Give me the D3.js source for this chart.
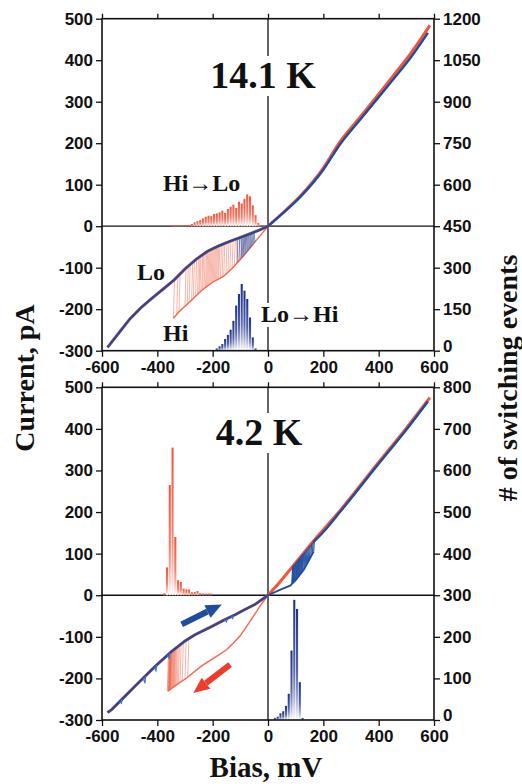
<!DOCTYPE html>
<html><head><meta charset="utf-8">
<script src="https://cdn.jsdelivr.net/npm/d3@7"></script>
<style>body{margin:0;background:#fff}</style>
</head><body><svg id="c" width="522" height="784"></svg>
<script>
// ---------------- DATA ----------------
const biasTicks = [-600,-400,-200,0,200,400,600];
const currentTicks = [-300,-200,-100,0,100,200,300,400,500];
const countTicksTop = [0,150,300,450,600,750,900,1050,1200];
const countTicksBot = [0,100,200,300,400,500,600,700,800];

// 14.1 K panel  [bias mV, current pA]
const loNegTop = [[-580,-292],[-540,-258],[-500,-224],[-460,-197],[-420,-174],[-380,-152],[-340,-130],[-300,-103],[-260,-80],[-220,-61],[-180,-48],[-140,-37],[-100,-27],[-60,-17],[-30,-9],[0,0]];
const hiNegTop = [[-342,-222],[-320,-205],[-282,-182],[-240,-155],[-200,-135],[-161,-121],[-130,-102],[-101,-81],[-70,-57],[-41,-33],[-20,-16],[0,0]];
const redPosTop = [[0,0],[50,30],[116,72],[200,140],[260,203],[332,262],[400,318],[453,363],[520,420],[585,484]];
const bluePosTop = [[0,0],[50,29],[116,70],[200,136],[260,197],[332,256],[400,311],[453,354],[520,410],[578,466]];
const redSwitchTop = [-342,-330,-322,-300,-292,-285,-276,-270,-262,-255,-250,-246,-240,-236,-231,-226,-222,-218,-214,-210,-206,-202,-198,-194,-190,-186,-182,-178,-172,-166,-160,-152,-145,-138,-130,-122,-114,-106,-98,-90,-82,-74,-66];
const blueSwitchTop = [-112,-104,-98,-94,-90,-86,-82,-78,-74,-70,-66,-62,-58,-54,-50];
// switching-event histograms (bin centre mV, # events)
const hiLoTopBias = [-345,-335,-325,-315,-305,-295,-285,-275,-265,-255,-245,-235,-225,-215,-205,-195,-185,-175,-165,-155,-145,-135,-125,-115,-105,-95,-85,-75,-65,-55,-45,-35,-25];
const hiLoTopCount = [3,3,3,3,4,4,5,8,14,18,22,28,34,38,36,44,46,50,56,48,62,70,78,66,88,82,98,115,108,75,40,12,4];
const loHiTopBias = [-195,-185,-175,-165,-155,-145,-135,-125,-115,-105,-95,-85,-75,-65,-55,-45];
const loHiTopCount = [2,8,16,24,42,57,76,108,163,205,241,217,187,120,48,8];

// 4.2 K panel
const loNegBot = [[-580,-282],[-565,-275],[-520,-245],[-481,-219],[-440,-192],[-408,-171],[-348,-135],[-300,-110],[-264,-95],[-203,-75],[-160,-60],[-119,-47],[-80,-33],[-47,-22],[0,0]];
const hiNegBot = [[-362,-231],[-330,-215],[-294,-199],[-240,-170],[-186,-147],[-150,-131],[-125,-115],[-100,-97],[-77,-75],[-50,-48],[-29,-26],[0,0]];
const redPosBot = [[0,0],[43,32],[100,78],[164,130],[260,203],[400,320],[500,402],[585,475]];
const blueLoPosBot = [[0,0],[43,13],[80,23],[100,36],[130,62],[165,105]];
const bluePosBot = [[165,128],[200,152],[260,200],[400,316],[500,398],[578,466]];
const redSwitchBot = [-364,-362,-360,-359,-358,-357,-356,-355,-354,-353,-352,-350,-348,-346,-344,-342,-340,-338,-335,-332,-328,-324,-318,-310,-300,-290];
const blueSwitchBot = [86,88,90,92,95,97,100,102,105,108,110,112,115,118,120,123,126,130,134,138,142,146,150,155,160,165];
const blueGlitchBot = [[-530,8],[-445,16],[-405,12],[-358,10],[-150,7],[-128,6]];
const hiLoBotBias = [-375,-365,-355,-345,-335,-325,-315,-305,-295,-285,-275,-265,-255,-245,-235,-225,-215,-205];
const hiLoBotCount = [5,67,265,355,140,36,32,16,14,14,7,8,10,5,4,4,4,4];
const loHiBotBias = [25,35,45,55,65,75,85,95,105,115,125];
const loHiBotCount = [5,8,16,21,34,63,167,289,267,91,5];
const arrowBlueBot = [[-312,-70],[-167,-22]];
const arrowRedBot = [[-137,-167],[-270,-235]];

// ---------------- DRAW ----------------
const RED = "#f0553c", BLUE = "#1f4c9e", BLUE_D = "#1c2f8c";
const svg = d3.select("#c");
const defs = svg.append("defs");
function grad(id, col){
  const g = defs.append("linearGradient").attr("id",id).attr("x1",0).attr("y1",0).attr("x2",0).attr("y2",1);
  g.append("stop").attr("offset","0%").attr("stop-color",col);
  g.append("stop").attr("offset","55%").attr("stop-color",col).attr("stop-opacity",0.75);
  g.append("stop").attr("offset","100%").attr("stop-color","#fff").attr("stop-opacity",1);
}
grad("gR", RED); grad("gB", BLUE_D);

const x = d3.scaleLinear().domain([-600,600]).range([102,434]);
const SANS = "'Liberation Sans', Arial, sans-serif";
const SERIF = "'Liberation Serif', 'Times New Roman', serif";

function interp(curve){
  return d3.scaleLinear().domain(curve.map(d=>d[0])).range(curve.map(d=>d[1])).clamp(true);
}

function panel(cfg){
  const y = d3.scaleLinear().domain([-300,500]).range([cfg.bottom, cfg.top]);
  const y2 = d3.scaleLinear().domain([0, cfg.countMax]).range([cfg.bottom, cfg.top]);
  const g = svg.append("g");
  const line = d3.line().x(d=>x(d[0])).y(d=>y(d[1]));
  const sline = d3.line().x(d=>x(d[0])).y(d=>y(d[1])).curve(d3.curveMonotoneX);

  // zero lines
  g.append("line").attr("x1",x(-600)).attr("x2",x(600)).attr("y1",y(0)).attr("y2",y(0)).attr("stroke","#111").attr("stroke-width",1.3);
  g.append("line").attr("x1",x(0)).attr("x2",x(0)).attr("y1",y(500)).attr("y2",y(-300)).attr("stroke","#111").attr("stroke-width",1.3);

  // histograms
  const bw = Math.abs(x(10)-x(0))*0.75;
  const hist = (bias, count, base, fill) => {
    g.append("g").selectAll("rect").data(bias.map((b,i)=>[b,count[i]])).join("rect")
      .attr("x", d=>x(d[0])-bw/2).attr("width", bw)
      .attr("y", d=>y2(base+d[1])).attr("height", d=>y2(base)-y2(base+d[1]))
      .attr("fill", fill);
  };
  hist(cfg.hiLoBias, cfg.hiLoCount, cfg.hiLoBase, "url(#gR)");
  hist(cfg.loHiBias, cfg.loHiCount, 0, "url(#gB)");

  // red switching lines (Hi -> Lo)
  const hiI = interp(cfg.hiNeg), loI = interp(cfg.loNeg);
  g.append("g").selectAll("line").data(cfg.redSwitch).join("line")
    .attr("x1",d=>x(d)).attr("x2",d=>x(d+4)).attr("y1",d=>y(hiI(d))).attr("y2",d=>y(loI(d+4)))
    .attr("stroke",RED).attr("stroke-opacity",0.55).attr("stroke-width",0.8);

  // curves
  g.append("path").attr("d",line(cfg.hiNeg)).attr("fill","none").attr("stroke",RED).attr("stroke-width",1.4).attr("stroke-opacity",0.9);
  g.append("path").attr("d",line(cfg.loNeg)).attr("fill","none").attr("stroke",RED).attr("stroke-width",3);
  g.append("path").attr("d",sline(cfg.redPos)).attr("fill","none").attr("stroke",RED).attr("stroke-width",3);
  g.append("path").attr("d",line(cfg.loNeg)).attr("fill","none").attr("stroke",BLUE).attr("stroke-width",2.2);
  g.append("path").attr("d",sline(cfg.bluePos)).attr("fill","none").attr("stroke",BLUE).attr("stroke-width",2.4);
  if(cfg.blueLoPos) g.append("path").attr("d",line(cfg.blueLoPos)).attr("fill","none").attr("stroke",BLUE).attr("stroke-width",1.8);

  // blue switching lines
  if(cfg.blueSwitchPos){
    const a = interp(cfg.blueLoPos), b = interp(cfg.redPos);
    g.append("g").selectAll("line").data(cfg.blueSwitchPos).join("line")
      .attr("x1",d=>x(d)).attr("x2",d=>x(d+3)).attr("y1",d=>y(a(d))).attr("y2",d=>y(b(d+3)))
      .attr("stroke",BLUE).attr("stroke-width",1.2).attr("stroke-opacity",0.9);
  }
  if(cfg.blueSwitchNeg){
    g.append("g").selectAll("line").data(cfg.blueSwitchNeg).join("line")
      .attr("x1",d=>x(d)).attr("x2",d=>x(d+3)).attr("y1",d=>y(loI(d))).attr("y2",d=>y(hiI(d+3)))
      .attr("stroke",BLUE).attr("stroke-opacity",0.7).attr("stroke-width",0.9);
  }
  if(cfg.glitch){
    g.append("g").selectAll("path").data(cfg.glitch).join("path")
      .attr("d",d=>`M${x(d[0]-6)},${y(loI(d[0]-6))}L${x(d[0])},${y(loI(d[0])-d[1])}L${x(d[0]+3)},${y(loI(d[0]+3))}`)
      .attr("fill","none").attr("stroke","#3a7cc8").attr("stroke-width",1.3);
  }

  // axes
  const styleAxis = s => { s.select(".domain").remove(); s.selectAll("text").attr("font-family",SANS).attr("font-weight","bold").attr("font-size",17).attr("fill","#111"); s.selectAll(".tick line").attr("stroke","#111").attr("stroke-width",1.3); };
  g.append("g").attr("transform",`translate(${x(-600)},0)`).call(d3.axisLeft(y).tickValues(currentTicks).tickSize(6).tickPadding(3).tickFormat(d3.format("d"))).call(styleAxis);
  const ra = g.append("g").attr("transform",`translate(${x(600)},0)`).call(d3.axisRight(y2).tickValues(cfg.countTicks).tickSize(6).tickPadding(3).tickFormat(d3.format("d"))).call(styleAxis);
  ra.selectAll(".tick").filter(d=>d===0).select("text").attr("dy","0.05em");
  g.append("g").attr("transform",`translate(0,${cfg.bottom})`).call(d3.axisBottom(x).tickValues(biasTicks).tickSize(6).tickPadding(4).tickFormat(d3.format("d"))).call(styleAxis);
  g.append("g").attr("transform",`translate(0,${cfg.top})`).call(d3.axisTop(x).tickValues(biasTicks).tickSize(5).tickFormat("")).call(styleAxis);
  g.selectAll("text").filter(function(){return this.textContent.startsWith("\u2212");}).text(function(){return this.textContent.replace("\u2212","-");});

  g.append("rect").attr("x",x(-600)).attr("y",cfg.top).attr("width",x(600)-x(-600)).attr("height",cfg.bottom-cfg.top)
    .attr("fill","none").attr("stroke","#111").attr("stroke-width",1.6);
  return {g,y};
}

function label(g, txt, px, py, size, bg, anchor){
  const t = g.append("text").attr("x",px).attr("y",py).attr("font-family",SERIF).attr("font-weight","bold")
    .attr("font-size",size).attr("text-anchor",anchor||"start").attr("fill","#111").text(txt);
  if(bg){
    const b = t.node().getBBox();
    g.insert("rect", function(){return t.node();}).attr("x",b.x-2).attr("y",b.y+2).attr("width",b.width+4).attr("height",b.height-2).attr("fill","#fff");
  }
  return t;
}

const P1 = panel({top:18.7, bottom:350.7, countMax:1200, countTicks:countTicksTop,
  loNeg:loNegTop, hiNeg:hiNegTop, redPos:redPosTop, bluePos:bluePosTop,
  redSwitch:redSwitchTop, blueSwitchNeg:blueSwitchTop,
  hiLoBias:hiLoTopBias, hiLoCount:hiLoTopCount, hiLoBase:450, loHiBias:loHiTopBias, loHiCount:loHiTopCount});
const P2 = panel({top:387.3, bottom:720, countMax:800, countTicks:countTicksBot,
  loNeg:loNegBot, hiNeg:hiNegBot, redPos:redPosBot, bluePos:bluePosBot, blueLoPos:blueLoPosBot,
  redSwitch:redSwitchBot, blueSwitchPos:blueSwitchBot, glitch:blueGlitchBot,
  hiLoBias:hiLoBotBias, hiLoCount:hiLoBotCount, hiLoBase:300, loHiBias:loHiBotBias, loHiCount:loHiBotCount});

// labels
label(P1.g, "14.1 K", 263, 88, 38, true, "middle");
label(P1.g, "Hi\u2192Lo", 163, 191, 24);
label(P1.g, "Lo", 137, 280, 24);
label(P1.g, "Hi", 163, 341, 24);
label(P1.g, "Lo\u2192Hi", 261, 322, 24, true);
label(P2.g, "4.2 K", 259, 445, 38, true, "middle");

// arrows
function arrow(g, pts, y, col){
  const [a,b] = pts.map(d=>[x(d[0]), y(d[1])]);
  const ang = Math.atan2(b[1]-a[1], b[0]-a[0]);
  const L = 16, W = 7;
  const bx = b[0]-L*Math.cos(ang), by = b[1]-L*Math.sin(ang);
  g.append("line").attr("x1",a[0]).attr("y1",a[1]).attr("x2",bx).attr("y2",by).attr("stroke",col).attr("stroke-width",6);
  const nx = -Math.sin(ang), ny = Math.cos(ang);
  g.append("path").attr("d",`M${b[0]},${b[1]}L${bx+nx*W},${by+ny*W}L${bx-nx*W},${by-ny*W}Z`).attr("fill",col);
}
arrow(P2.g, arrowBlueBot, P2.y, BLUE);
arrow(P2.g, arrowRedBot, P2.y, "#f03a2a");

// axis titles
svg.append("text").attr("x",266).attr("y",777).attr("text-anchor","middle").attr("font-family",SERIF).attr("font-weight","bold").attr("font-size",29).attr("fill","#111").text("Bias, mV");
svg.append("text").attr("transform","translate(34,378) rotate(-90)").attr("text-anchor","middle").attr("font-family",SERIF).attr("font-weight","bold").attr("font-size",28).attr("fill","#111").text("Current, pA");
svg.append("text").attr("transform","translate(517,378) rotate(-90)").attr("text-anchor","middle").attr("font-family",SERIF).attr("font-weight","bold").attr("font-size",28).attr("fill","#111").text("# of switching events");
</script></body></html>
